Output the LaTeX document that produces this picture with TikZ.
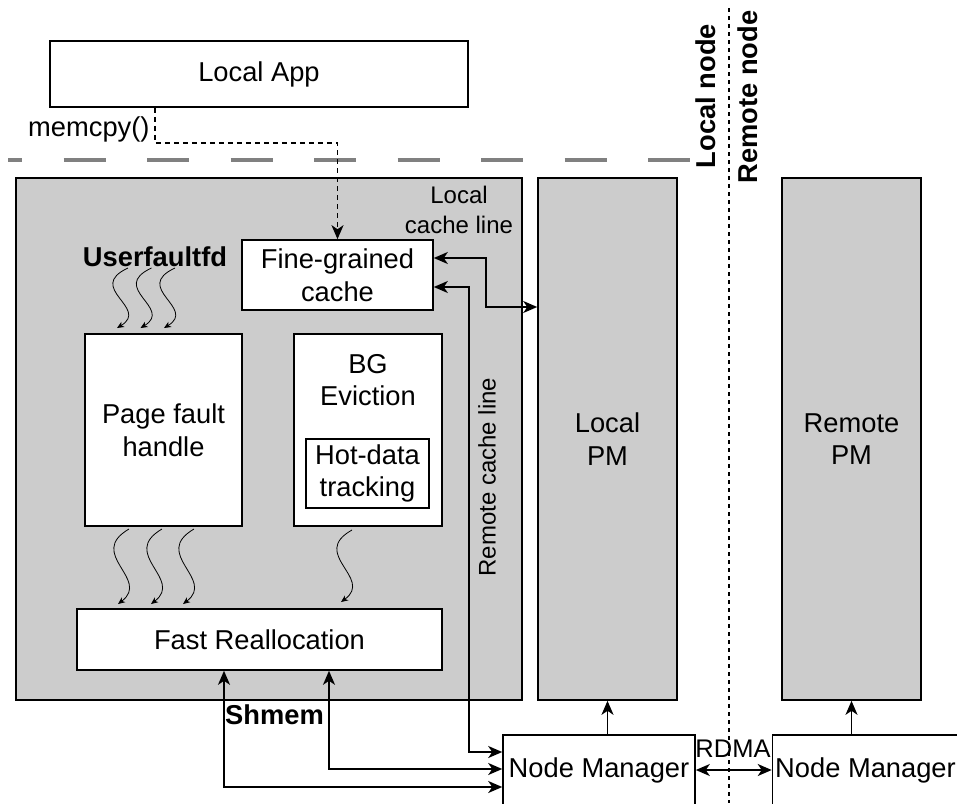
\documentclass[tikz,border=0pt]{standalone}
\usepackage{fontspec}
\setmainfont{Liberation Sans}
\usetikzlibrary{arrows.meta,calc}
\definecolor{boxgray}{HTML}{CCCCCC}
\definecolor{lingray}{HTML}{808080}
\newcommand\mainf{\fontsize{27.3}{32.8}\selectfont}
\newcommand\smallf{\fontsize{24}{30}\selectfont}
\tikzset{
  box/.style={draw, line width=1.6pt, fill=white, align=center, inner sep=0pt, font=\mainf},
  graybox/.style={box, fill=boxgray},
  lbl/.style={inner sep=0pt, align=center, font=\mainf},
  slbl/.style={inner sep=0pt, align=center, font=\smallf},
  bigtip/.tip={Stealth[length=14pt,width=12pt,inset=4pt]},
  arr/.style={line width=1.6pt, -bigtip},
  dbl/.style={line width=1.6pt, bigtip-bigtip},
  dasharr/.style={line width=1.6pt, dash pattern=on 5pt off 4pt, -bigtip},
  squig/.style={line width=0.8pt, -{Stealth[length=7pt,width=6pt,inset=2pt]}},
  squigpic/.pic={\draw[squig] (0,0) .. controls (-43,20) and (22,40) .. (-11,60);}
}
\begin{document}
\begin{tikzpicture}[x=1pt,y=-1pt]
\useasboundingbox (0,0) rectangle (957,803);

% separators
\draw[line width=3.5pt, color=lingray, dash pattern=on 42pt off 41.5pt, dash phase=28pt] (8,160) -- (690,160);
\draw[line width=1.5pt, dash pattern=on 4pt off 4pt] (729,8) -- (729,803);
\node[lbl, rotate=90, font=\mainf\bfseries] (ln) at (706,96) {Local node};
\node[lbl, rotate=90, font=\mainf\bfseries] (rn) at (748,97) {Remote node};

% boxes
\node[box, minimum width=418pt, minimum height=66pt] (app) at (259,74) {Local App};
\node[graybox, minimum width=506pt, minimum height=522pt] (big) at (269,439) {};
\node[graybox, minimum width=139pt, minimum height=522pt] (lpm) at (607.5,439) {Local\\PM};
\node[graybox, minimum width=139pt, minimum height=522pt] (rpm) at (851.5,439) {Remote\\PM};
\node[box, minimum width=191pt, minimum height=70pt] (fgc) at (337.5,275) {Fine-grained\\cache};
\node[box, minimum width=157pt, minimum height=192pt] (pfh) at (163.5,430) {Page fault\\handle};
\node[box, minimum width=148pt, minimum height=192pt] (bge) at (368,430) {};
\node[lbl] (bgl) at (368,380) {BG\\Eviction};
\node[box, minimum width=123pt, minimum height=69pt] (hot) at (367.5,473.5) {Hot-data\\tracking};
\node[box, minimum width=365pt, minimum height=61pt] (fr) at (259.5,639.5) {Fast Reallocation};
\node[box, minimum width=192pt, minimum height=70pt] (nm1) at (599,770) {Node Manager};
\node[box, minimum width=186pt, minimum height=70pt] (nm2) at (865.5,770) {Node Manager};

% labels
\node[lbl, anchor=base west] (mc) at (28,136) {memcpy()};
\node[lbl, font=\mainf\bfseries] (uf) at (155,257) {Userfaultfd};
\node[lbl, font=\mainf\bfseries] (sh) at (274.5,715) {Shmem};
\node[slbl] (lcl) at (459,210) {Local\\cache line};
\node[slbl, rotate=90] (rcl) at (487,477) {Remote cache line};
\node[lbl, font=\fontsize{25.5}{30}\selectfont] (rd) at (733,749) {RDMA};

% connectors
\coordinate (m1) at (155,143);
\draw[dasharr] (app.south -| m1) -- (m1) -| (fgc.north);

\coordinate (lc) at (486,307);
\draw[dbl] ([yshift=17pt]fgc.east) -| (lc) -- (lc -| lpm.west);

\coordinate (rc) at (469,752);
\draw[dbl] ([yshift=-12pt]fgc.east) -| (rc) -- (rc -| nm1.west);

\coordinate (s1) at (224,787);
\draw[dbl] (s1 |- fr.south) -- (s1) -- (s1 -| nm1.west);
\coordinate (s2) at (329,769);
\draw[dbl] (s2 |- fr.south) -- (s2) -- (s2 -| nm1.west);

\draw[arr] (nm1.north -| lpm.south) -- (lpm.south);
\draw[arr] (nm2.north -| rpm.south) -- (rpm.south);
\draw[dbl] (nm1.east) -- (nm2.west);

% squiggly arrows
\pic at (128,268) {squigpic};
\pic at (151.5,268) {squigpic};
\pic at (175,268) {squigpic};
\pic[yscale=1.25] at (129,529) {squigpic};
\pic[yscale=1.25] at (162,529) {squigpic};
\pic[yscale=1.25] at (194,529) {squigpic};
\pic[yscale=1.2] at (352,530) {squigpic};
\end{tikzpicture}
\end{document}
